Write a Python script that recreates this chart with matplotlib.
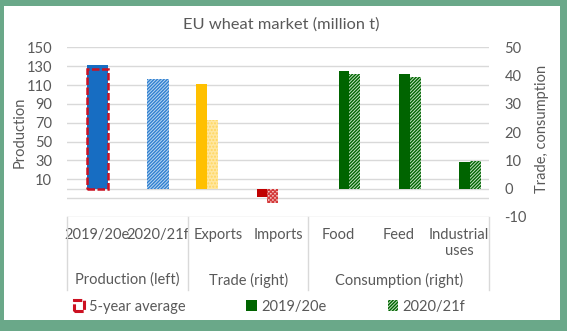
import numpy as np
import matplotlib
matplotlib.use("Agg")
import matplotlib.pyplot as plt
from matplotlib.patches import Patch, Rectangle
from matplotlib.lines import Line2D
from matplotlib.transforms import blended_transform_factory

plt.rcParams['font.family'] = ['Lato', 'DejaVu Sans']
plt.rcParams['hatch.linewidth'] = 1.0

# ---- data -------------------------------------------------------------
title = 'EU wheat market (million t)'
categories = ['2019/20e', '2020/21f', 'Exports', 'Imports',
              'Food', 'Feed', 'Industrial\nuses']
groups = ['Production (left)', 'Trade (right)', 'Consumption (right)']
group_spans = [(0, 1), (2, 3), (4, 6)]

# production, million t (left axis)
production = [131.0, 116.5]          # 2019/20e, 2020/21f
production_5yr = 127.5               # 5-year average

# trade, million t (right axis): exports, imports
trade_1920 = [37.2, -2.8]
trade_2021 = [24.3, -5.0]

# consumption, million t (right axis): food, feed, industrial uses
cons_1920 = [41.6, 40.6, 9.5]
cons_2021 = [40.6, 39.6, 9.8]

left_ticks = [-30, -10, 10, 30, 50, 70, 90, 110, 130, 150]
right_ticks = [-10, 0, 10, 20, 30, 40, 50]
legend_labels = ['5-year average', '2019/20e', '2020/21f']
left_label = 'Production'
right_label = 'Trade, consumption'

# ---- styles -----------------------------------------------------------
TXT = '#595959'
GRID = '#d9d9d9'
BLUE = '#176dc2'
BLUE_FACE = '#bcd7f2'
BLUE_H = '#2f80d0'
YELLOW = '#ffc000'
YELLOW_PALE = '#ffe7a0'
YELLOW_H = '#ffd75e'
RED = '#c00000'
RED_FACE = '#f6d0d0'
RED_H = '#d43a3a'
RED_LINE = '#cc1122'
GREEN = '#006400'
GREEN_FACE = '#c4e2c4'
BORDER = '#6aa889'
FS = 10.5
DENSE = '/' * 10

W, H = 567, 331
fig = plt.figure(figsize=(W / 100, H / 100), dpi=100, facecolor=BORDER)
fig.add_artist(Rectangle((4 / W, 11 / H), 556 / W, 314 / H,
                         transform=fig.transFigure, facecolor='white',
                         edgecolor='none', zorder=-10))

ax = fig.add_axes([67.3 / W, (H - 217) / H, 422 / W, (217 - 47.3) / H])
ax.set_facecolor('none')
ax2 = ax.twinx()

x = np.arange(len(categories))
pw = 0.36   # production bar width
bw = 0.18   # trade / consumption bar width

# production (left axis)
ax.bar(x[0], production[0], pw, color=BLUE, lw=0, zorder=2)
ax.bar(x[1], production[1], pw, facecolor=BLUE_FACE, edgecolor=BLUE_H,
       hatch=DENSE, lw=0, zorder=2)
ax.bar(x[0], production_5yr, pw, facecolor='none', edgecolor=RED_LINE,
       lw=1.8, linestyle=(0, (3, 1)), zorder=3)

# trade (right axis)
xt = x[2:4]
solid_trade = [YELLOW, RED]
for xi, v, c in zip(xt, trade_1920, solid_trade):
    ax2.bar(xi - 0.27, v, bw, color=c, lw=0)
ax2.bar(xt[0] - 0.09, trade_2021[0], bw, facecolor=YELLOW_PALE,
        edgecolor=YELLOW_H, hatch='.....', lw=0)
ax2.bar(xt[1] - 0.09, trade_2021[1], bw, facecolor=RED_FACE,
        edgecolor=RED_H, hatch='xxxxxxxx', lw=0)

# consumption (right axis)
xc = x[4:]
ax2.bar(xc + 0.09, cons_1920, bw, color=GREEN, lw=0)
ax2.bar(xc + 0.27, cons_2021, bw, facecolor=GREEN_FACE, edgecolor=GREEN,
        hatch=DENSE, lw=0)

# axes
ax.set_xlim(-0.5, len(categories) - 0.5)
ax.set_ylim(left_ticks[0], left_ticks[-1])
ax2.set_ylim(right_ticks[0], right_ticks[-1])

ax.set_yticks(left_ticks)
ax.set_yticklabels([str(t) if t > 0 else '' for t in left_ticks])
ax2.set_yticks(right_ticks)
ax2.set_yticklabels([str(t) for t in right_ticks])
ax.tick_params(axis='y', length=0, pad=11, labelcolor=TXT, labelsize=FS)
ax2.tick_params(axis='y', length=0, pad=11, labelcolor=TXT, labelsize=FS)

ax.set_xticks(x)
ax.set_xticklabels(categories)
ax.tick_params(axis='x', length=0, pad=8, labelcolor=TXT, labelsize=FS)
for lbl in ax.get_xticklabels():
    lbl.set_linespacing(1.2)

ax.grid(axis='y', color=GRID, lw=1)
ax.grid(axis='x', visible=False)
ax.set_axisbelow(True)
ax.axhline(0, color=GRID, lw=1, zorder=1)
for a in (ax, ax2):
    for s in a.spines.values():
        s.set_visible(False)

# group labels and separators under the categories
bt = blended_transform_factory(ax.transData, fig.transFigure)
for name, (a, b) in zip(groups, group_spans):
    ax.text((a + b) / 2, (H - 280) / H, name, transform=bt, ha='center',
            va='center', color=TXT, fontsize=FS)
seps = [group_spans[0][0] - 0.5] + [b + 0.5 for _, b in group_spans]
for sx in seps:
    fig.add_artist(Line2D([sx, sx], [(H - 217) / H, (H - 290) / H],
                          transform=bt, color=GRID, lw=1))

# titles
fig.text(281.7 / W, (H - 25) / H, title, ha='center', va='center',
         color=TXT, fontsize=11.8)
fig.text(20 / W, (H - 132) / H, left_label, rotation=90, ha='center',
         va='center', color=TXT, fontsize=FS)
fig.text(541.7 / W, (H - 129) / H, right_label, rotation=90, ha='center',
         va='center', color=TXT, fontsize=FS)

# legend
handles = [
    Patch(facecolor='white', edgecolor=RED_LINE, lw=2.2, linestyle=(0, (3, 0.8))),
    Patch(facecolor=GREEN, lw=0),
    Patch(facecolor=GREEN_FACE, edgecolor=GREEN, hatch=DENSE, lw=0),
]
fig.legend(handles, legend_labels, loc='center left',
           bbox_to_anchor=(74 / W, (H - 306.7) / H), ncol=3, frameon=False,
           handlelength=0.7, handleheight=0.7, handletextpad=0.3,
           columnspacing=4.2, borderpad=0, borderaxespad=0, fontsize=FS,
           labelcolor=TXT)

fig.savefig('out.png', dpi=100, facecolor=BORDER)
